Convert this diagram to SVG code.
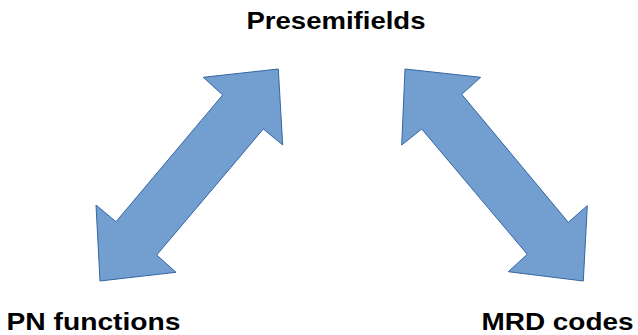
<svg xmlns="http://www.w3.org/2000/svg" width="638" height="335" viewBox="0 0 638 335">
<style>
.arrow{fill:#729fcf;stroke:#3465a4;stroke-width:1;stroke-linejoin:miter}
.lbl{font-family:"Liberation Sans",Arial,sans-serif;font-weight:bold;font-size:24.5px;fill:#000}
</style>
<rect width="638" height="335" fill="#fff"/>
<g id="connectors">
<polygon class="arrow" points="278.3,69 282.7,145 263.3,129 156.7,255 176,272.3 100,281 96,205 116,221.7 222.7,95 203.3,77.3"/>
<polygon class="arrow" points="405,69 480.7,77.3 461.7,94.3 568.3,222.3 587.3,205.7 583.3,281 508.3,271.7 527.3,254.3 421.7,129 401.7,145"/>
</g>
<g id="presemifields"><text class="lbl" x="246.5" y="28.5" textLength="179" lengthAdjust="spacingAndGlyphs">Presemifields</text></g>
<g id="pn-functions"><text class="lbl" x="6.5" y="329.5" textLength="174" lengthAdjust="spacingAndGlyphs">PN functions</text></g>
<g id="mrd-codes"><text class="lbl" x="481.5" y="329.5" textLength="152" lengthAdjust="spacingAndGlyphs">MRD codes</text></g>
</svg>
